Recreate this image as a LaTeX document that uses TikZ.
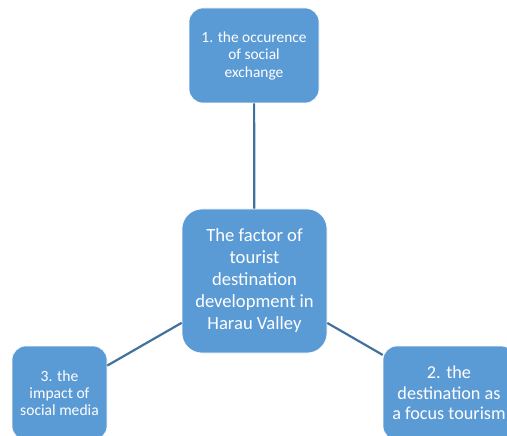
\documentclass[tikz,border=0pt]{standalone}
\usepackage{fontspec}
\setmainfont{Carlito}
\definecolor{boxfill}{HTML}{5B9BD5}
\definecolor{linecol}{HTML}{41719C}
\begin{document}
\begin{tikzpicture}[x=1pt,y=-1pt,
  box/.style={draw=white, line width=0.6pt, fill=boxfill, rounded corners=#1, text=white, align=center, inner sep=0pt},
  box/.default=14pt,
  link/.style={draw=linecol, line width=2.2pt}]
\useasboundingbox (0,0) rectangle (507,436);
\clip (0,0) rectangle (507,436);
\node[box=14pt, minimum width=130pt, minimum height=95pt, font=\fontsize{15.4}{17.5}\selectfont] (top) at (254,55.5) {1. the occurence\\of social\\exchange};
\node[box=20pt, minimum width=145pt, minimum height=144pt, font=\fontsize{18.6}{22}\selectfont] (mid) at (254.5,281) {The factor of\\tourist\\destination\\development in\\Harau Valley};
\node[box=14pt, minimum width=95pt, minimum height=94pt, font=\fontsize{15.6}{17}\selectfont] (left) at (59.5,393) {3. the\\impact of\\social media};
\node[box=14pt, minimum width=132pt, minimum height=94pt, font=\fontsize{18.2}{20.5}\selectfont] (right) at (449,393) {2. the\\destination as\\a focus tourism};
\draw[link] (top) -- (mid);
\draw[link] (left) -- (mid);
\draw[link] (mid) -- (right);
\end{tikzpicture}
\end{document}
